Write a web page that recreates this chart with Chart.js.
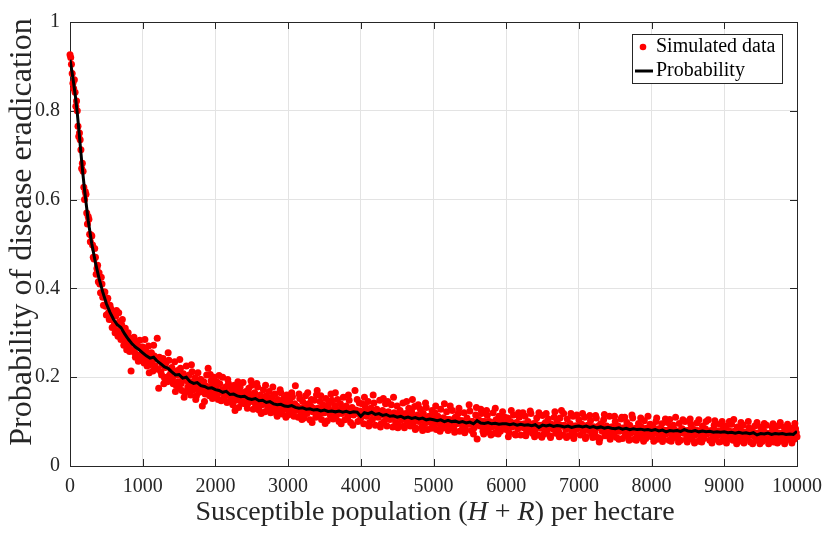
<!DOCTYPE html>
<html>
<head>
<meta charset="utf-8">
<script src="https://cdn.jsdelivr.net/npm/chart.js@4/dist/chart.umd.min.js"></script>
<style>
html,body{margin:0;padding:0;background:#fff;}
#wrap{width:833px;height:533px;}
</style>
</head>
<body>
<div id="wrap"><canvas id="c" width="833" height="533"></canvas></div>
<script>
// ---------------- data ----------------
const xTickLabels = ['0','1000','2000','3000','4000','5000','6000','7000','8000','9000','10000'];
const yTickLabels = ['0','0.2','0.4','0.6','0.8','1'];
const seriesNames = ['Simulated data','Probability'];

// simulated data, first batch (even multiples of 20)
const simXa = [
0,20,40,60,80,100,120,140,160,180,
200,220,240,260,280,300,320,340,360,380,
400,420,440,460,480,500,520,540,560,580,
600,620,640,660,680,700,720,740,760,780,
800,820,840,860,880,900,920,940,960,980,
1000,1020,1040,1060,1080,1100,1120,1140,1160,1180,
1200,1220,1240,1260,1280,1300,1320,1340,1360,1380,
1400,1420,1440,1460,1480,1500,1520,1540,1560,1580,
1600,1620,1640,1660,1680,1700,1720,1740,1760,1780,
1800,1820,1840,1860,1880,1900,1920,1940,1960,1980,
2000,2020,2040,2060,2080,2100,2120,2140,2160,2180,
2200,2220,2240,2260,2280,2300,2320,2340,2360,2380,
2400,2420,2440,2460,2480,2500,2520,2540,2560,2580,
2600,2620,2640,2660,2680,2700,2720,2740,2760,2780,
2800,2820,2840,2860,2880,2900,2920,2940,2960,2980,
3000,3020,3040,3060,3080,3100,3120,3140,3160,3180,
3200,3220,3240,3260,3280,3300,3320,3340,3360,3380,
3400,3420,3440,3460,3480,3500,3520,3540,3560,3580,
3600,3620,3640,3660,3680,3700,3720,3740,3760,3780,
3800,3820,3840,3860,3880,3900,3920,3940,3960,3980,
4000,4020,4040,4060,4080,4100,4120,4140,4160,4180,
4200,4220,4240,4260,4280,4300,4320,4340,4360,4380,
4400,4420,4440,4460,4480,4500,4520,4540,4560,4580,
4600,4620,4640,4660,4680,4700,4720,4740,4760,4780,
4800,4820,4840,4860,4880,4900,4920,4940,4960,4980,
5000,5020,5040,5060,5080,5100,5120,5140,5160,5180,
5200,5220,5240,5260,5280,5300,5320,5340,5360,5380,
5400,5420,5440,5460,5480,5500,5520,5540,5560,5580,
5600,5620,5640,5660,5680,5700,5720,5740,5760,5780,
5800,5820,5840,5860,5880,5900,5920,5940,5960,5980,
6000,6020,6040,6060,6080,6100,6120,6140,6160,6180,
6200,6220,6240,6260,6280,6300,6320,6340,6360,6380,
6400,6420,6440,6460,6480,6500,6520,6540,6560,6580,
6600,6620,6640,6660,6680,6700,6720,6740,6760,6780,
6800,6820,6840,6860,6880,6900,6920,6940,6960,6980,
7000,7020,7040,7060,7080,7100,7120,7140,7160,7180,
7200,7220,7240,7260,7280,7300,7320,7340,7360,7380,
7400,7420,7440,7460,7480,7500,7520,7540,7560,7580,
7600,7620,7640,7660,7680,7700,7720,7740,7760,7780,
7800,7820,7840,7860,7880,7900,7920,7940,7960,7980,
8000,8020,8040,8060,8080,8100,8120,8140,8160,8180,
8200,8220,8240,8260,8280,8300,8320,8340,8360,8380,
8400,8420,8440,8460,8480,8500,8520,8540,8560,8580,
8600,8620,8640,8660,8680,8700,8720,8740,8760,8780,
8800,8820,8840,8860,8880,8900,8920,8940,8960,8980,
9000,9020,9040,9060,9080,9100,9120,9140,9160,9180,
9200,9220,9240,9260,9280,9300,9320,9340,9360,9380,
9400,9420,9440,9460,9480,9500,9520,9540,9560,9580,
9600,9620,9640,9660,9680,9700,9720,9740,9760,9780,
9800,9820,9840,9860,9880,9900,9920,9940,9960,9980,
10000];

const simYa = [
0.926,0.905,0.862,0.87,0.81,0.80,0.742,0.735,0.67,0.664,
0.60,0.612,0.545,0.556,0.505,0.518,0.47,0.49,0.432,0.452,
0.435,0.39,0.41,0.362,0.392,0.34,0.378,0.33,0.355,0.312,
0.342,0.30,0.35,0.292,0.325,0.285,0.33,0.272,0.31,0.262,
0.30,0.258,0.214,0.262,0.29,0.245,0.278,0.236,0.283,0.25,
0.268,0.232,0.262,0.225,0.27,0.228,0.255,0.214,0.248,0.22,
0.288,0.175,0.236,0.205,0.242,0.198,0.232,0.19,0.238,0.2,
0.222,0.185,0.235,0.182,0.215,0.176,0.22,0.17,0.208,0.165,
0.225,0.178,0.205,0.16,0.212,0.172,0.198,0.158,0.21,0.166,
0.195,0.135,0.19,0.162,0.205,0.22,0.158,0.192,0.152,0.2,
0.158,0.19,0.15,0.185,0.147,0.2,0.155,0.178,0.143,0.186,
0.145,0.175,0.138,0.182,0.148,0.17,0.132,0.178,0.142,0.188,
0.14,0.168,0.13,0.175,0.145,0.182,0.128,0.165,0.135,0.178,
0.126,0.16,0.138,0.172,0.122,0.158,0.132,0.168,0.12,0.155,
0.128,0.162,0.118,0.15,0.125,0.165,0.117,0.152,0.128,0.16,
0.115,0.148,0.124,0.156,0.112,0.181,0.135,0.11,0.152,0.12,
0.145,0.108,0.158,0.118,0.14,0.104,0.15,0.122,0.148,0.11,
0.17,0.116,0.145,0.105,0.138,0.12,0.152,0.102,0.142,0.115,
0.148,0.106,0.136,0.112,0.15,0.1,0.14,0.118,0.155,0.104,
0.135,0.11,0.148,0.098,0.132,0.115,0.17,0.125,0.1,0.142,
0.108,0.14,0.095,0.135,0.112,0.145,0.098,0.13,0.105,0.142,
0.092,0.128,0.11,0.148,0.095,0.125,0.1,0.14,0.09,0.122,
0.105,0.138,0.088,0.12,0.098,0.135,0.092,0.125,0.104,0.142,
0.086,0.118,0.1,0.13,0.09,0.122,0.096,0.134,0.085,0.115,
0.1,0.128,0.088,0.118,0.095,0.132,0.082,0.112,0.098,0.125,
0.09,0.12,0.082,0.112,0.095,0.128,0.085,0.108,0.092,0.122,
0.08,0.105,0.09,0.125,0.084,0.11,0.095,0.118,0.078,0.102,
0.088,0.12,0.082,0.108,0.094,0.124,0.08,0.1,0.086,0.115,
0.061,0.105,0.09,0.118,0.078,0.1,0.086,0.114,0.076,0.098,
0.088,0.12,0.074,0.104,0.085,0.112,0.078,0.096,0.084,0.11,
0.082,0.108,0.075,0.1,0.088,0.115,0.072,0.098,0.084,0.11,
0.07,0.094,0.086,0.112,0.076,0.1,0.08,0.118,0.074,0.096,
0.082,0.108,0.07,0.092,0.085,0.114,0.072,0.098,0.08,0.106,
0.068,0.094,0.084,0.11,0.074,0.1,0.078,0.108,0.125,0.07,
0.092,0.082,0.106,0.068,0.095,0.08,0.112,0.072,0.09,0.084,
0.104,0.07,0.094,0.078,0.11,0.066,0.092,0.08,0.102,0.072,
0.088,0.076,0.108,0.064,0.054,0.095,0.078,0.104,0.068,0.09,
0.076,0.112,0.066,0.088,0.074,0.1,0.064,0.09,0.078,0.106,
0.062,0.086,0.072,0.098,0.066,0.092,0.075,0.108,0.06,0.085,
0.07,0.096,0.064,0.088,0.074,0.102,0.062,0.082,0.07,0.094,
0.066,0.09,0.074,0.1,0.06,0.084,0.07,0.095,0.062,0.08,
0.072,0.098,0.058,0.086,0.068,0.092,0.064,0.078,0.07,0.096,
0.058,0.084,0.074,0.1,0.062,0.08,0.068,0.094,0.06,0.082,
0.07,0.097,0.056,0.078,0.066,0.09,0.062,0.084,0.072,0.104,
0.058,0.08,0.068,0.092,0.06,0.078,0.07,0.094,0.056,0.082,
0.066,0.09,0.06,0.08,0.07,0.094,0.058,0.078,0.066,0.088,
0.056,0.082,0.068,0.092,0.06,0.076,0.064,0.086,0.054,0.078,
0.068,0.09,0.058,0.074,0.064,0.088,0.055,0.08,0.066,0.092,
0.058,0.072,0.062,0.086,0.054,0.078,0.066,0.09,0.056,0.074,
0.062,0.088,0.055,0.076,0.064,0.086,0.058,0.072,0.06,0.084,
0.066];

// simulated data, second batch (odd multiples of 10)
const simXb = [
10,30,50,70,90,110,130,150,170,190,
210,230,250,270,290,310,330,350,370,390,
410,430,450,470,490,510,530,550,570,590,
610,630,650,670,690,710,730,750,770,790,
810,830,850,870,890,910,930,950,970,990,
1010,1030,1050,1070,1090,1110,1130,1150,1170,1190,
1210,1230,1250,1270,1290,1310,1330,1350,1370,1390,
1410,1430,1450,1470,1490,1510,1530,1550,1570,1590,
1610,1630,1650,1670,1690,1710,1730,1750,1770,1790,
1810,1830,1850,1870,1890,1910,1930,1950,1970,1990,
2010,2030,2050,2070,2090,2110,2130,2150,2170,2190,
2210,2230,2250,2270,2290,2310,2330,2350,2370,2390,
2410,2430,2450,2470,2490,2510,2530,2550,2570,2590,
2610,2630,2650,2670,2690,2710,2730,2750,2770,2790,
2810,2830,2850,2870,2890,2910,2930,2950,2970,2990,
3010,3030,3050,3070,3090,3110,3130,3150,3170,3190,
3210,3230,3250,3270,3290,3310,3330,3350,3370,3390,
3410,3430,3450,3470,3490,3510,3530,3550,3570,3590,
3610,3630,3650,3670,3690,3710,3730,3750,3770,3790,
3810,3830,3850,3870,3890,3910,3930,3950,3970,3990,
4010,4030,4050,4070,4090,4110,4130,4150,4170,4190,
4210,4230,4250,4270,4290,4310,4330,4350,4370,4390,
4410,4430,4450,4470,4490,4510,4530,4550,4570,4590,
4610,4630,4650,4670,4690,4710,4730,4750,4770,4790,
4810,4830,4850,4870,4890,4910,4930,4950,4970,4990,
5010,5030,5050,5070,5090,5110,5130,5150,5170,5190,
5210,5230,5250,5270,5290,5310,5330,5350,5370,5390,
5410,5430,5450,5470,5490,5510,5530,5550,5570,5590,
5610,5630,5650,5670,5690,5710,5730,5750,5770,5790,
5810,5830,5850,5870,5890,5910,5930,5950,5970,5990,
6010,6030,6050,6070,6090,6110,6130,6150,6170,6190,
6210,6230,6250,6270,6290,6310,6330,6350,6370,6390,
6410,6430,6450,6470,6490,6510,6530,6550,6570,6590,
6610,6630,6650,6670,6690,6710,6730,6750,6770,6790,
6810,6830,6850,6870,6890,6910,6930,6950,6970,6990,
7010,7030,7050,7070,7090,7110,7130,7150,7170,7190,
7210,7230,7250,7270,7290,7310,7330,7350,7370,7390,
7410,7430,7450,7470,7490,7510,7530,7550,7570,7590,
7610,7630,7650,7670,7690,7710,7730,7750,7770,7790,
7810,7830,7850,7870,7890,7910,7930,7950,7970,7990,
8010,8030,8050,8070,8090,8110,8130,8150,8170,8190,
8210,8230,8250,8270,8290,8310,8330,8350,8370,8390,
8410,8430,8450,8470,8490,8510,8530,8550,8570,8590,
8610,8630,8650,8670,8690,8710,8730,8750,8770,8790,
8810,8830,8850,8870,8890,8910,8930,8950,8970,8990,
9010,9030,9050,9070,9090,9110,9130,9150,9170,9190,
9210,9230,9250,9270,9290,9310,9330,9350,9370,9390,
9410,9430,9450,9470,9490,9510,9530,9550,9570,9590,
9610,9630,9650,9670,9690,9710,9730,9750,9770,9790,
9810,9830,9850,9870,9890,9910,9930,9950,9970,9990];

const simYb = [
0.92,0.884,0.85,0.842,0.822,0.765,0.75,0.712,0.682,0.628,
0.618,0.57,0.562,0.522,0.52,0.498,0.466,0.47,0.445,0.415,
0.41,0.425,0.38,0.392,0.36,0.375,0.345,0.362,0.33,0.348,
0.318,0.338,0.305,0.345,0.298,0.318,0.29,0.302,0.278,0.295,
0.27,0.288,0.26,0.282,0.255,0.272,0.25,0.268,0.24,0.262,
0.245,0.285,0.238,0.254,0.21,0.25,0.236,0.272,0.226,0.242,
0.218,0.245,0.212,0.228,0.185,0.222,0.2,0.255,0.205,0.215,
0.196,0.212,0.168,0.205,0.19,0.24,0.186,0.2,0.155,0.196,
0.192,0.17,0.19,0.228,0.18,0.186,0.15,0.19,0.176,0.195,
0.172,0.188,0.145,0.18,0.17,0.178,0.206,0.168,0.182,0.162,
0.175,0.162,0.204,0.166,0.172,0.152,0.17,0.165,0.195,0.158,
0.162,0.152,0.168,0.125,0.16,0.19,0.155,0.148,0.165,0.156,
0.152,0.158,0.142,0.162,0.192,0.15,0.155,0.14,0.186,0.15,
0.145,0.118,0.15,0.142,0.182,0.145,0.138,0.152,0.14,0.178,
0.142,0.135,0.112,0.14,0.172,0.138,0.145,0.132,0.11,0.14,
0.13,0.138,0.165,0.128,0.14,0.125,0.132,0.162,0.13,0.105,
0.128,0.132,0.124,0.165,0.128,0.135,0.098,0.13,0.126,0.16,
0.13,0.125,0.158,0.12,0.128,0.096,0.126,0.132,0.122,0.162,
0.125,0.12,0.165,0.128,0.118,0.126,0.095,0.128,0.122,0.13,
0.124,0.16,0.118,0.128,0.092,0.122,0.126,0.15,0.118,0.124,
0.118,0.122,0.155,0.116,0.125,0.09,0.12,0.118,0.16,0.121,
0.118,0.112,0.122,0.088,0.115,0.152,0.116,0.112,0.145,0.118,
0.112,0.108,0.155,0.114,0.116,0.086,0.11,0.12,0.112,0.09,
0.11,0.145,0.108,0.112,0.104,0.15,0.11,0.082,0.108,0.138,
0.106,0.11,0.08,0.104,0.142,0.108,0.105,0.112,0.085,0.106,
0.104,0.135,0.1,0.106,0.078,0.102,0.108,0.14,0.1,0.105,
0.1,0.135,0.098,0.104,0.076,0.1,0.106,0.13,0.098,0.102,
0.1,0.075,0.098,0.102,0.138,0.096,0.1,0.072,0.098,0.132,
0.098,0.095,0.128,0.1,0.072,0.097,0.125,0.094,0.1,0.07,
0.096,0.098,0.13,0.094,0.072,0.097,0.1,0.122,0.092,0.096,
0.094,0.066,0.096,0.125,0.092,0.095,0.07,0.096,0.12,0.093,
0.092,0.12,0.095,0.068,0.093,0.096,0.124,0.09,0.094,0.066,
0.094,0.092,0.12,0.088,0.065,0.093,0.09,0.118,0.092,0.094,
0.064,0.09,0.092,0.122,0.09,0.088,0.066,0.092,0.09,0.118,
0.09,0.064,0.088,0.092,0.118,0.088,0.062,0.09,0.115,0.088,
0.088,0.09,0.118,0.086,0.062,0.09,0.088,0.114,0.086,0.064,
0.088,0.114,0.086,0.09,0.062,0.086,0.088,0.116,0.084,0.088,
0.086,0.06,0.088,0.084,0.112,0.085,0.086,0.06,0.084,0.11,
0.084,0.11,0.082,0.085,0.058,0.083,0.115,0.082,0.084,0.058,
0.082,0.084,0.108,0.08,0.056,0.083,0.085,0.112,0.08,0.078,
0.082,0.056,0.08,0.108,0.082,0.078,0.084,0.055,0.08,0.106,
0.08,0.078,0.105,0.056,0.08,0.082,0.11,0.078,0.054,0.08,
0.078,0.104,0.08,0.076,0.054,0.08,0.106,0.078,0.082,0.052,
0.078,0.08,0.104,0.076,0.054,0.079,0.078,0.1,0.075,0.078,
0.076,0.052,0.078,0.102,0.076,0.079,0.054,0.076,0.1,0.077,
0.078,0.052,0.075,0.1,0.077,0.074,0.105,0.076,0.05,0.075,
0.074,0.098,0.076,0.052,0.075,0.073,0.1,0.075,0.074,0.05,
0.075,0.072,0.098,0.074,0.05,0.073,0.076,0.096,0.072,0.074,
0.05,0.074,0.072,0.095,0.073,0.071,0.052,0.074,0.098,0.072,
0.073,0.05,0.072,0.094,0.074,0.071,0.052,0.073,0.096,0.075];

const probX = [
0,25,50,75,100,125,150,175,200,
250,300,350,400,450,500,550,600,650,700,750,800,850,900,950,
1000,1050,1100,1150,1200,1250,1300,1350,1400,1450,1500,1550,1600,1650,1700,1750,1800,1850,1900,1950,
2000,2050,2100,2150,2200,2250,2300,2350,2400,2450,2500,2550,2600,2650,2700,2750,2800,2850,2900,2950,
3000,3050,3100,3150,3200,3250,3300,3350,3400,3450,3500,3550,3600,3650,3700,3750,3800,3850,3900,3950,
4000,4050,4100,4150,4200,4250,4300,4350,4400,4450,4500,4550,4600,4650,4700,4750,4800,4850,4900,4950,
5000,5050,5100,5150,5200,5250,5300,5350,5400,5450,5500,5550,5600,5650,5700,5750,5800,5850,5900,5950,
6000,6050,6100,6150,6200,6250,6300,6350,6400,6450,6500,6550,6600,6650,6700,6750,6800,6850,6900,6950,
7000,7050,7100,7150,7200,7250,7300,7350,7400,7450,7500,7550,7600,7650,7700,7750,7800,7850,7900,7950,
8000,8050,8100,8150,8200,8250,8300,8350,8400,8450,8500,8550,8600,8650,8700,8750,8800,8850,8900,8950,
9000,9050,9100,9150,9200,9250,9300,9350,9400,9450,9500,9550,9600,9650,9700,9750,9800,9850,9900,9950,
10000];

const probY = [
0.915,0.89,0.862,0.832,0.795,0.752,0.705,0.662,0.622,
0.553,0.5,0.458,0.422,0.392,0.366,0.346,0.33,0.318,0.312,0.298,0.286,0.276,0.268,0.262,
0.255,0.248,0.243,0.245,0.236,0.23,0.223,0.22,0.212,0.205,0.206,0.198,0.2,0.19,0.186,0.188,0.181,0.179,0.175,0.176,
0.172,0.17,0.166,0.168,0.161,0.162,0.158,0.156,0.157,0.152,0.15,0.152,0.147,0.148,0.143,0.145,0.14,0.138,0.139,0.135,
0.134,0.136,0.132,0.13,0.131,0.128,0.129,0.126,0.127,0.124,0.126,0.123,0.124,0.122,0.124,0.121,0.123,0.12,0.122,0.121,
0.112,0.12,0.118,0.121,0.116,0.118,0.114,0.116,0.112,0.113,0.11,0.112,0.108,0.11,0.107,0.109,0.106,0.108,0.104,0.106,
0.104,0.102,0.104,0.1,0.103,0.1,0.101,0.098,0.1,0.097,0.099,0.095,0.102,0.097,0.096,0.098,0.095,0.096,0.094,0.095,
0.095,0.093,0.095,0.092,0.094,0.092,0.093,0.091,0.093,0.087,0.092,0.09,0.092,0.089,0.091,0.09,0.088,0.09,0.087,0.089,
0.09,0.088,0.09,0.087,0.089,0.086,0.088,0.085,0.087,0.085,0.084,0.086,0.083,0.085,0.082,0.084,0.082,0.083,0.081,0.082,
0.08,0.082,0.079,0.081,0.077,0.08,0.079,0.08,0.078,0.082,0.079,0.078,0.08,0.077,0.079,0.077,0.078,0.076,0.077,0.076,
0.077,0.075,0.076,0.074,0.076,0.074,0.075,0.073,0.075,0.07,0.073,0.072,0.074,0.071,0.073,0.072,0.073,0.071,0.072,0.071,
0.078];

// ---------------- chart ----------------
const FONT = '"Liberation Serif", "Times New Roman", serif';
const AXIS_COLOR = '#262626';
const TICK_LEN = 7;

const simPoints = simXa.map((x, i) => ({x: x, y: simYa[i]}))
  .concat(simXb.map((x, i) => ({x: x, y: simYb[i]})));
const probPoints = probX.map((x, i) => ({x: x, y: probY[i]}));

const framePlugin = {
  id: 'frame',
  beforeDatasetsDraw(chart) {
    const {ctx, chartArea: a, scales} = chart;
    ctx.save();
    ctx.strokeStyle = AXIS_COLOR;
    ctx.lineWidth = 1;
    ctx.beginPath();
    scales.x.ticks.forEach(t => {
      const px = Math.round(scales.x.getPixelForValue(t.value)) + 0.5;
      ctx.moveTo(px, a.bottom); ctx.lineTo(px, a.bottom - TICK_LEN);
      ctx.moveTo(px, a.top); ctx.lineTo(px, a.top + TICK_LEN);
    });
    scales.y.ticks.forEach(t => {
      const py = Math.round(scales.y.getPixelForValue(t.value)) + 0.5;
      ctx.moveTo(a.left, py); ctx.lineTo(a.left + TICK_LEN, py);
      ctx.moveTo(a.right, py); ctx.lineTo(a.right - TICK_LEN, py);
    });
    ctx.stroke();
    ctx.strokeRect(Math.round(a.left) + 0.5, Math.round(a.top) + 0.5,
                   Math.round(a.right - a.left), Math.round(a.bottom - a.top));
    ctx.restore();
  },
  afterDraw(chart) {
    const {ctx} = chart;
    ctx.save();
    // y axis title
    ctx.fillStyle = AXIS_COLOR;
    ctx.font = '32px ' + FONT;
    ctx.textAlign = 'center';
    ctx.textBaseline = 'alphabetic';
    ctx.translate(31, 232);
    ctx.rotate(-Math.PI / 2);
    ctx.fillText('Probability of disease eradication', 0, 0);
    ctx.restore();

    // x axis title with italic variables
    ctx.save();
    ctx.fillStyle = AXIS_COLOR;
    ctx.textBaseline = 'alphabetic';
    ctx.textAlign = 'left';
    const segs = [['Susceptible population (', false], ['H', true], [' + ', false], ['R', true], [') per hectare', false]];
    const fs = 28;
    let total = 0;
    segs.forEach(s => { ctx.font = (s[1] ? 'italic ' : '') + fs + 'px ' + FONT; total += ctx.measureText(s[0]).width; });
    let cx = 435 - total / 2;
    segs.forEach(s => {
      ctx.font = (s[1] ? 'italic ' : '') + fs + 'px ' + FONT;
      ctx.fillText(s[0], cx, 520);
      cx += ctx.measureText(s[0]).width;
    });
    ctx.restore();

    // legend
    ctx.save();
    const lx = 632, ly = 34, lw = 150, lh = 49;
    ctx.fillStyle = '#fff';
    ctx.fillRect(lx, ly, lw, lh);
    ctx.strokeStyle = AXIS_COLOR;
    ctx.lineWidth = 1;
    ctx.strokeRect(lx + 0.5, ly + 0.5, lw, lh);
    ctx.fillStyle = '#ff0000';
    ctx.beginPath();
    ctx.arc(643, 47, 3.3, 0, Math.PI * 2);
    ctx.fill();
    ctx.strokeStyle = '#000';
    ctx.lineWidth = 3;
    ctx.beginPath();
    ctx.moveTo(635, 71); ctx.lineTo(653, 71);
    ctx.stroke();
    ctx.fillStyle = '#000';
    ctx.font = '20px ' + FONT;
    ctx.textAlign = 'left';
    ctx.textBaseline = 'middle';
    ctx.fillText(seriesNames[0], 656, 47);
    ctx.fillText(seriesNames[1], 656, 71);
    ctx.restore();
  }
};

new Chart(document.getElementById('c'), {
  type: 'scatter',
  data: {
    datasets: [
      {
        label: seriesNames[1],
        type: 'line',
        data: probPoints,
        borderColor: '#000',
        borderWidth: 3,
        pointRadius: 0,
        fill: false,
        tension: 0,
        order: 0
      },
      {
        label: seriesNames[0],
        data: simPoints,
        backgroundColor: '#ff0000',
        borderWidth: 0,
        pointRadius: 3.5,
        clip: false,
        order: 1
      }
    ]
  },
  options: {
    responsive: false,
    animation: false,
    devicePixelRatio: 1,
    layout: {padding: {left: 0, top: 14, right: 36, bottom: 0}},
    plugins: {legend: {display: false}, tooltip: {enabled: false}},
    scales: {
      x: {
        type: 'linear', min: 0, max: 10000,
        afterFit: s => { s.height = 67; },
        afterBuildTicks: s => { s.ticks = xTickLabels.map(v => ({value: Number(v)})); },
        ticks: {
          autoSkip: false, maxRotation: 0, padding: 9,
          color: AXIS_COLOR, font: {family: FONT, size: 20},
          callback: (v, i) => xTickLabels[i]
        },
        grid: {color: '#e3e3e3', lineWidth: 1, drawTicks: false},
        border: {display: false}
      },
      y: {
        type: 'linear', min: 0, max: 1,
        afterFit: s => { s.width = 70; },
        afterBuildTicks: s => { s.ticks = yTickLabels.map(v => ({value: Number(v)})); },
        ticks: {
          padding: 10,
          color: AXIS_COLOR, font: {family: FONT, size: 20},
          callback: (v, i) => yTickLabels[i]
        },
        grid: {color: '#e3e3e3', lineWidth: 1, drawTicks: false},
        border: {display: false}
      }
    }
  },
  plugins: [framePlugin]
});
</script>
</body>
</html>
